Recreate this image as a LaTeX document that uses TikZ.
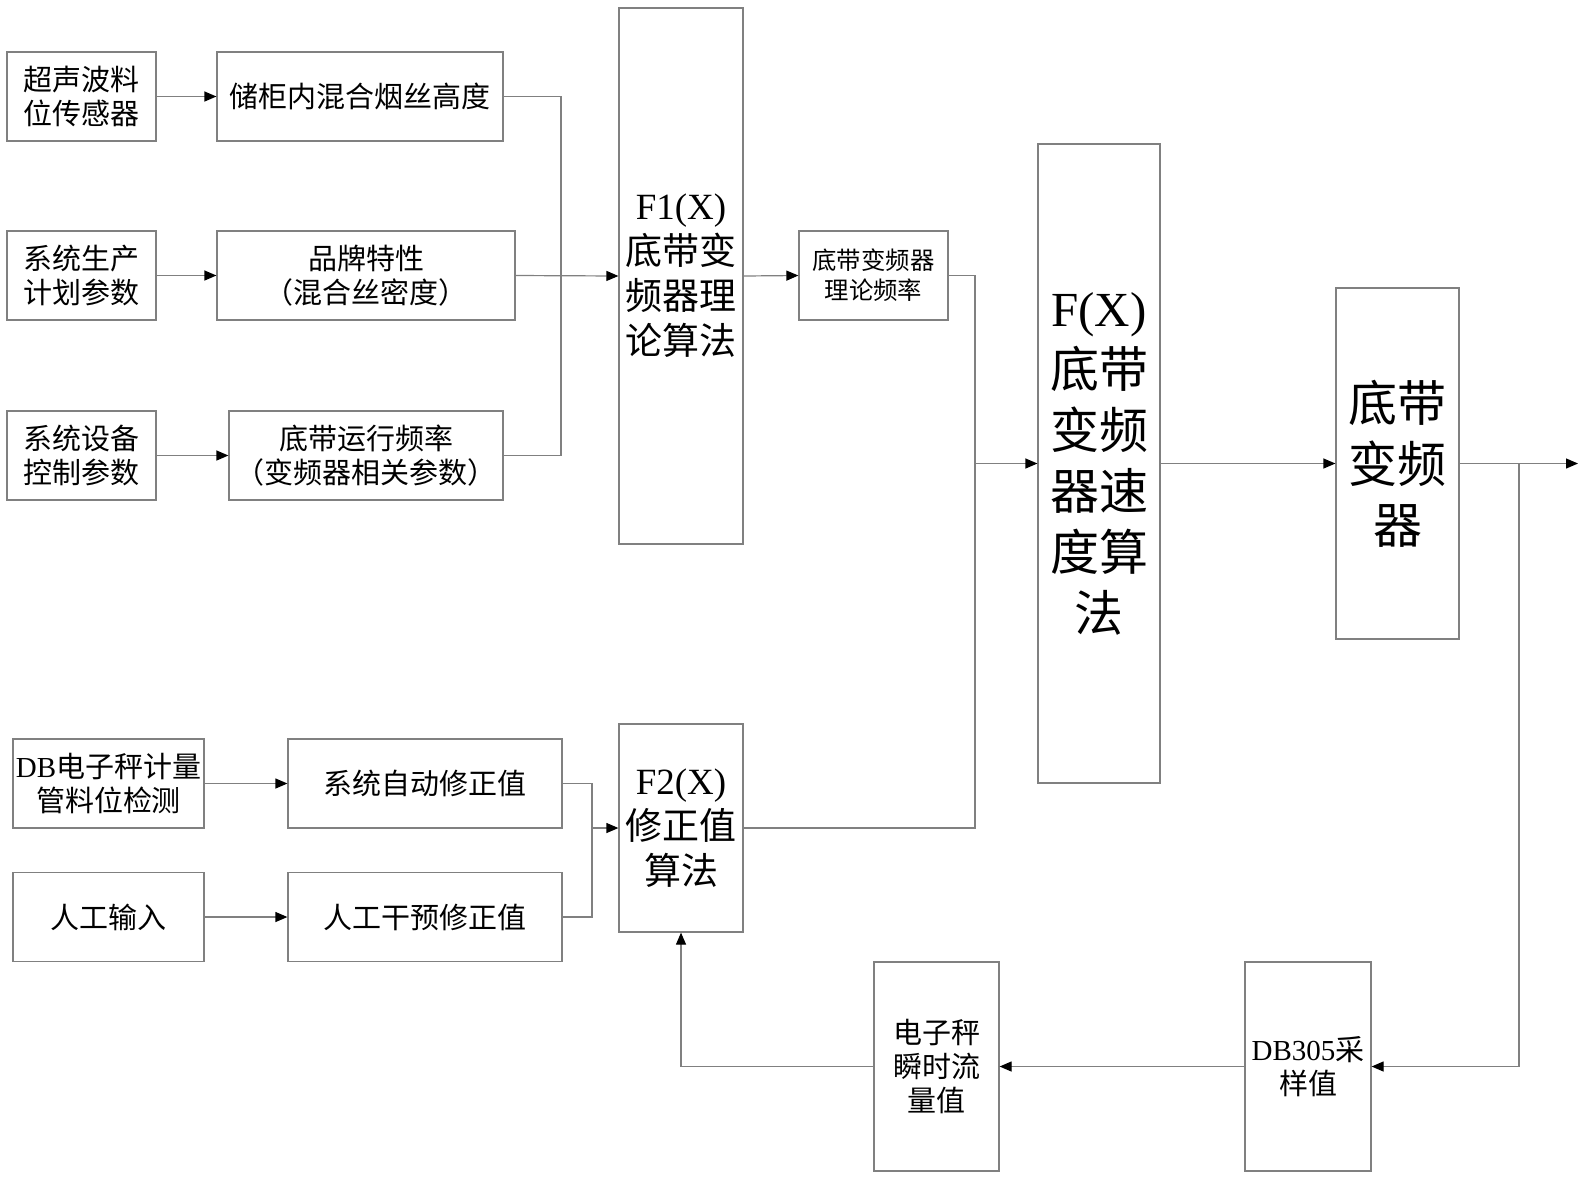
\documentclass[tikz,border=0pt]{standalone}
\usepackage{fontspec}
\setmainfont{Noto Sans CJK SC}
\newfontfamily\lat{Liberation Serif}
\usepackage{tikz}
\usetikzlibrary{arrows.meta, positioning, calc}

\begin{document}
\begin{tikzpicture}[
			x=0.5pt, y=-0.5pt,
			block/.style={rectangle, draw=black!50, line width=0.6pt, align=center, inner sep=0pt, minimum height=44.5pt, font=\fontsize{14.5}{17}\selectfont},
			small/.style={block, font=\fontsize{12.2}{15}\selectfont},
			algo/.style={block, font=\fontsize{18.5}{22.5}\selectfont},
			big/.style={block, font=\fontsize{24.5}{30.5}\selectfont},
			line/.style={draw=black!50, line width=0.6pt},
			arrow/.style={line, -{Triangle[length=6pt, width=5pt, color=black]}}
			]
			\useasboundingbox (0,0) rectangle (1580,1180);
			
			% --- Column 1: inputs ---
			\node[block, minimum width=74.5pt] (sensor) at (81.5, 96.5) {超声波料\\位传感器};
			\node[block, minimum width=74.5pt] (plan) at (81.5, 275.5) {系统生产\\计划参数};
			\node[block, minimum width=74.5pt] (ctrl) at (81.5, 455.5) {系统设备\\控制参数};
			\node[block, minimum width=95.5pt] (scale) at (108.5, 783.5) {{\lat DB}电子秤计量\\管料位检测};
			\node[block, minimum width=95.5pt] (manual) at (108.5, 917) {人工输入};
			
			% --- Column 2: derived values ---
			\node[block, minimum width=143pt] (height) at (360, 96.5) {储柜内混合烟丝高度};
			\node[block, minimum width=149pt] (brand) at (366, 275.5) {品牌特性\\（混合丝密度）};
			\node[block, minimum width=137pt] (freq) at (366, 455.5) {底带运行频率\\（变频器相关参数）};
			\node[block, minimum width=137pt] (autocorr) at (425, 783.5) {系统自动修正值};
			\node[block, minimum width=137pt] (mancorr) at (425, 917) {人工干预修正值};
			
			% --- Algorithms ---
			\node[algo, minimum width=62pt, minimum height=268pt] (fone) at (681, 276) {{\lat F1(X)}\\底带变\\频器理\\论算法};
			\node[algo, minimum width=62pt, minimum height=104pt] (ftwo) at (681, 828) {{\lat F2(X)}\\修正值\\算法};
			\node[small, minimum width=74.5pt] (theory) at (873.5, 275.5) {底带变频器\\理论频率};
			\node[big, minimum width=61pt, minimum height=319.5pt] (fx) at (1099, 463.5) {{\lat F(X)}\\底带\\变频\\器速\\度算\\法};
			\node[big, minimum width=61.5pt, minimum height=175.5pt] (vfd) at (1397.5, 463.5) {底带\\变频\\器};
			
			% --- Feedback ---
			\node[block, minimum width=63pt, minimum height=104.5pt] (sample) at (1308, 1066.5) {{\lat DB305}采\\样值};
			\node[block, minimum width=62.5pt, minimum height=104.5pt] (flow) at (936.5, 1066.5) {电子秤\\瞬时流\\量值};
			
			% --- Junction points ---
			\coordinate (jin) at (561, 276);
			\coordinate (jfx) at (975, 463.5);
			\coordinate (jout) at (1519, 463.5);
			\coordinate (jcorr) at (592, 828);
			\coordinate (out) at (1578, 463.5);
			
			% --- Forward routing ---
			\draw[arrow] (sensor) -- (height);
			\draw[arrow] (plan) -- (brand);
			\draw[arrow] (ctrl) -- (freq);
			\draw[line] (height.east) -| (jin);
			\draw[line] (freq.east) -| (jin);
			\draw[arrow] (brand.east) -- (jin -| fone.west);
			\draw[arrow] (fone.east) -- (theory.west);
			\draw[line] (theory.east) -| (jfx);
			\draw[line] (ftwo.east) -| (jfx);
			\draw[arrow] (jfx) -- (fx.west);
			\draw[arrow] (fx) -- (vfd);
			\draw[arrow] (vfd.east) -- (out);
			
			% --- Correction routing ---
			\draw[arrow] (scale) -- (autocorr);
			\draw[arrow] (manual) -- (mancorr);
			\draw[line] (autocorr.east) -| (jcorr);
			\draw[line] (mancorr.east) -| (jcorr);
			\draw[arrow] (jcorr) -- (ftwo.west);
			
			% --- Feedback loop ---
			\draw[arrow] (jout) |- (sample.east);
			\draw[arrow] (sample) -- (flow);
			\draw[arrow] (flow.west) -| (ftwo.south);
			
\end{tikzpicture}
\end{document}
